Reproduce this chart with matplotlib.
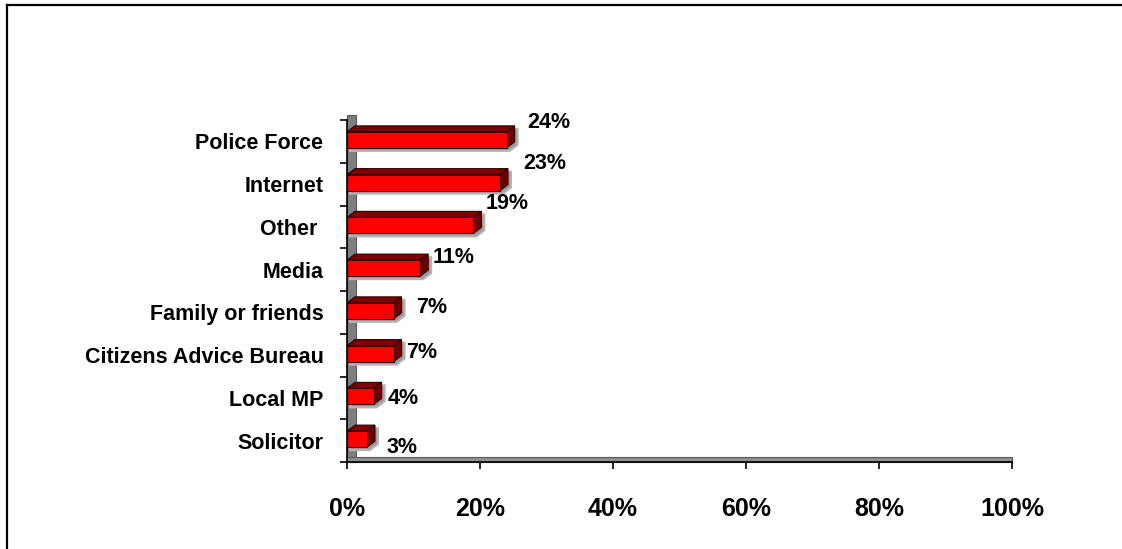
import matplotlib
matplotlib.use('Agg')
import matplotlib.pyplot as plt
from matplotlib.patches import Polygon, Rectangle
from matplotlib.lines import Line2D
from matplotlib.transforms import offset_copy

sources = ['Police Force', 'Internet', 'Other ', 'Media', 'Family or friends',
           'Citizens Advice Bureau', 'Local MP', 'Solicitor']
shares = [24, 23, 19, 11, 7, 7, 4, 3]
share_labels = ['24%', '23%', '19%', '11%', '7%', '7%', '4%', '3%']
x_ticks = [0, 20, 40, 60, 80, 100]
x_tick_labels = ['0%', '20%', '40%', '60%', '80%', '100%']

# where each value label sits, in pixels (right, up) from the bar end
label_nudge = [(21, 19), (23, 21), (12, 23), (12, 12), (23, 5), (13, 3), (14, -1), (20, -7)]

plt.rcParams['font.family'] = ['Liberation Sans', 'DejaVu Sans']
plt.rcParams['font.weight'] = 'bold'

fig = plt.figure(figsize=(11.22, 5.49), dpi=100)
ax = fig.add_axes([347 / 1122, 1 - 462 / 549, 665 / 1122, 342 / 549])
n = len(sources)
ax.set_xlim(0, 100)
ax.set_ylim(-0.5, n - 0.5)
ypos = [n - 1 - i for i in range(n)]

# size of one pixel in data units, for the 3d look
bb = ax.get_window_extent()
px = 100 / bb.width
py = n / bb.height
dx, dy = 8 * px, 6 * py
h = 16 * py
shadow_tr = offset_copy(ax.transData, fig=fig, x=3, y=-3, units='dots')

# back wall and floor
ax.add_patch(Rectangle((0, -0.5), 9 * px, n + 5 * py, fc='#7f7f7f', ec='#5a5a5a',
                       lw=0.8, clip_on=False, zorder=1))
ax.add_patch(Rectangle((0, -0.5), 100, 5 * py, fc='#8f8f8f', ec='#5a5a5a',
                       lw=0.8, clip_on=False, zorder=1))

centres = [y + 1.5 * py for y in ypos]
for yc, v in zip(centres, shares):
    y0, y1 = yc - h / 2, yc + h / 2
    outline = [(0, y0), (v, y0), (v + dx, y0 + dy), (v + dx, y1 + dy), (dx, y1 + dy), (0, y1)]
    ax.add_patch(Polygon(outline, closed=True, fc='#9a9a9a', ec='#b5b5b5', lw=1.5,
                         transform=shadow_tr, zorder=2, clip_on=False))
    top = [(0, y1), (v, y1), (v + dx, y1 + dy), (dx, y1 + dy)]
    ax.add_patch(Polygon(top, closed=True, fc='#800000', ec='#2a0000', lw=0.8, zorder=3))
    side = [(v, y0), (v + dx, y0 + dy), (v + dx, y1 + dy), (v, y1)]
    ax.add_patch(Polygon(side, closed=True, fc='#6a0000', ec='#2a0000', lw=0.8, zorder=3))

ax.barh(centres, shares, height=h, color='#ff0000', edgecolor='#3a0000', lw=0.8, zorder=4)

for y, v, lab, (nx, ny) in zip(ypos, shares, share_labels, label_nudge):
    ax.annotate(lab, xy=(v, y), xytext=(nx, ny), textcoords='offset pixels',
                ha='left', va='center', fontsize=15.5, fontweight='bold', zorder=5)

for side in ['top', 'right']:
    ax.spines[side].set_visible(False)
for side in ['left', 'bottom']:
    ax.spines[side].set_linewidth(1.2)
    ax.spines[side].set_zorder(6)

ax.set_yticks([i - 0.5 for i in range(n + 1)])
ax.set_yticklabels([])
ax.set_yticks(ypos, minor=True)
ax.set_yticklabels(sources, minor=True, fontsize=15.5, fontweight='bold')
ax.tick_params(axis='y', which='major', length=5, width=1.2, direction='out')
ax.tick_params(axis='y', which='minor', length=0, pad=17)

ax.set_xticks(x_ticks)
ax.set_xticklabels(x_tick_labels, fontsize=18, fontweight='bold')
ax.tick_params(axis='x', length=5, width=1.2, direction='out', pad=20.5)

# outer frame (top and left edges only)
fig.add_artist(Line2D([7 / 1122, 7 / 1122], [0, 1 - 5 / 549], transform=fig.transFigure,
                      color='black', lw=1.6))
fig.add_artist(Line2D([7 / 1122, 1], [1 - 5 / 549, 1 - 5 / 549], transform=fig.transFigure,
                      color='black', lw=1.6))

fig.savefig('out.png', dpi=100)
